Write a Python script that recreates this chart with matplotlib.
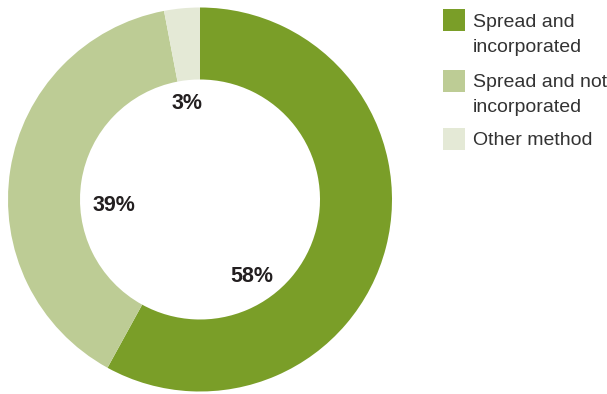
import matplotlib.pyplot as plt
from matplotlib.patches import Rectangle

categories = ["Spread and\nincorporated", "Spread and not\nincorporated", "Other method"]
shares = [58, 39, 3]
colors = ["#7a9e28", "#bdcc95", "#e4e9d6"]
# label spots inside the hole (axes data units, radius 1 = outer edge)
label_xy = [(0.27, -0.40), (-0.45, -0.03), (-0.07, 0.50)]

W, H = 607, 394
fig = plt.figure(figsize=(W / 100, H / 100), dpi=100)
plt.rcParams["font.family"] = ["Liberation Sans", "DejaVu Sans"]

cx, cy, r = 200, 199.5, 192
ax = fig.add_axes([(cx - r) / W, (H - cy - r) / H, 2 * r / W, 2 * r / H])
ax.pie(shares, colors=colors, startangle=90, counterclock=False, radius=1,
       wedgeprops=dict(width=0.375, linewidth=0))
ax.set_xlim(-1, 1)
ax.set_ylim(-1, 1)
ax.set_aspect("equal")
ax.axis("off")

for val, (x, y) in zip(shares, label_xy):
    ax.text(x, y, f"{val}%", ha="center", va="center", fontsize=15.5,
            fontweight="bold", color="#231f20")

# legend drawn by hand: square swatch plus label lines
box_tops = [9, 70, 128]
baselines = [27, 87, 145]
line_step = 24.5
for cat, col, top, base in zip(categories, colors, box_tops, baselines):
    fig.patches.append(Rectangle((443 / W, (H - top - 22) / H), 22 / W, 22 / H,
                                 transform=fig.transFigure, facecolor=col,
                                 edgecolor="none"))
    for i, line in enumerate(cat.split("\n")):
        fig.text(473 / W, (H - base - i * line_step) / H, line, ha="left",
                 va="baseline", fontsize=14, color="#333333")

fig.savefig("out.png", dpi=100)
